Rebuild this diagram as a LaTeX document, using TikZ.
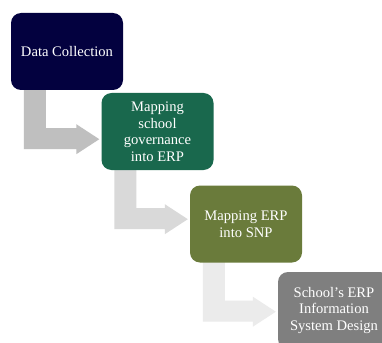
\documentclass[tikz,border=0pt]{standalone}
\usepackage{fontspec}
\setmainfont{Liberation Serif}
\usetikzlibrary{calc,backgrounds}
\definecolor{c1}{HTML}{03013F}
\definecolor{c2}{HTML}{19684D}
\definecolor{c3}{HTML}{6A7B3B}
\definecolor{c4}{HTML}{7F7F7F}
\definecolor{a1}{HTML}{BFBFBF}
\definecolor{a2}{HTML}{D9D9D9}
\definecolor{a3}{HTML}{EBEBEB}
\tikzset{
  stepbox/.style={rounded corners=10pt, minimum width=112pt, minimum height=77pt,
    text=white, align=center, inner sep=0pt,
    font=\fontsize{14.6}{16.5}\selectfont},
}
\newcommand{\bentarrow}[3]{%
  \fill[#3] let \p1=(#1.south west), \p2=(#2.west) in
    ({\x1+13pt},{\y1+2pt}) -- ({\x1+35pt},{\y1+2pt}) -- ({\x1+35pt},{\y1-38pt})
    -- ({\x2-25pt},{\y1-38pt}) -- ({\x2-25pt},{\y1-34pt}) -- ({\x2-2pt},{\y1-49pt})
    -- ({\x2-25pt},{\y1-64pt}) -- ({\x2-25pt},{\y1-59pt}) -- ({\x1+13pt},{\y1-59pt}) -- cycle;}
\begin{document}
\begin{tikzpicture}[x=1pt,y=-1pt]
\useasboundingbox (0,0) rectangle (382,342);
\clip (0,0) rectangle (382,342);
\node[stepbox, fill=c1] (b1) at (67,51.5) {Data Collection};
\node[stepbox, fill=c2] (b2) at (157.5,131.5) {Mapping\\school\\governance\\into ERP};
\node[stepbox, fill=c3] (b3) at (246,224) {Mapping ERP\\into SNP};
\node[stepbox, fill=c4] (b4) at (334,310.5) {School’s ERP\\Information\\System Design};
\begin{scope}[on background layer]
\fill[white] (0,0) rectangle (382,342);
\bentarrow{b1}{b2}{a1}
\bentarrow{b2}{b3}{a2}
\bentarrow{b3}{b4}{a3}
\end{scope}
\end{tikzpicture}
\end{document}
